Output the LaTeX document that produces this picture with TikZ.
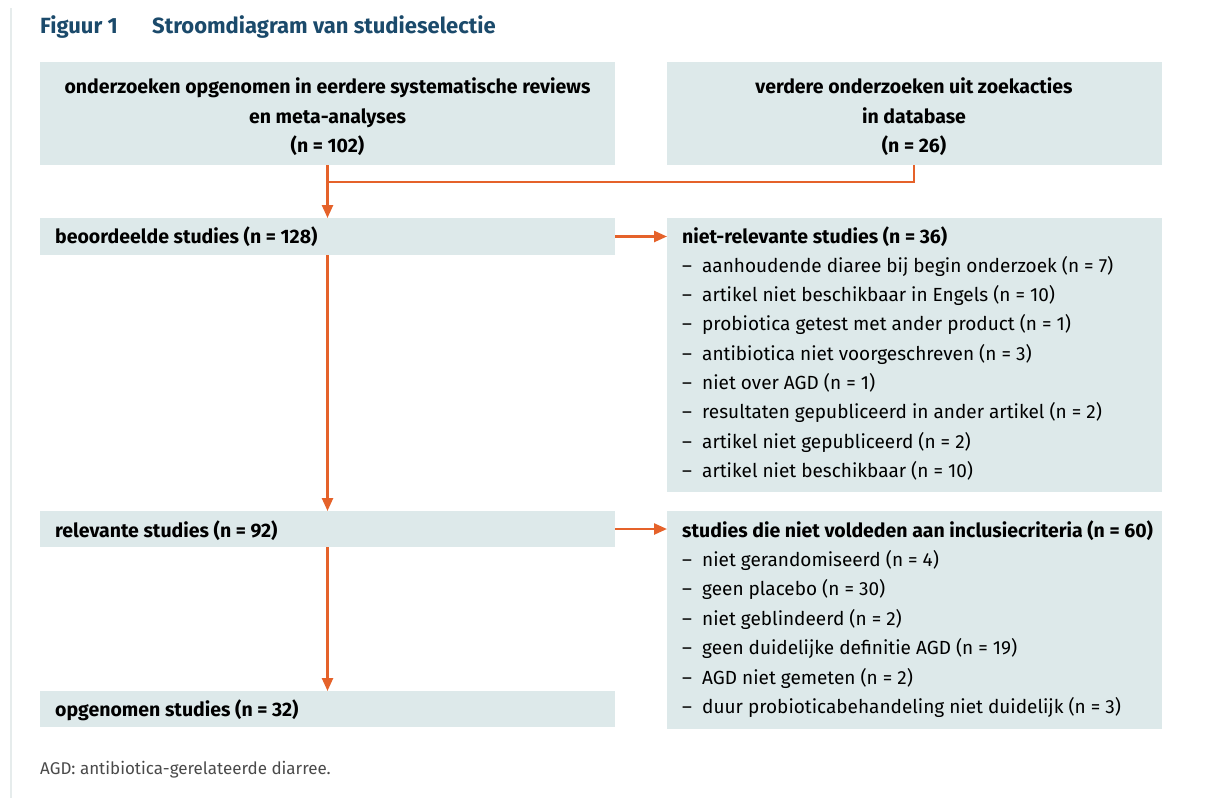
\documentclass[tikz,border=0pt]{standalone}
\usepackage{fontspec}
\setmainfont{Fira Sans}
\usetikzlibrary{arrows.meta}
\definecolor{boxfill}{HTML}{DDE9EA}
\definecolor{arrowc}{HTML}{E5622A}
\definecolor{titleblue}{HTML}{1B4A6B}
\definecolor{notegray}{HTML}{4A4A4A}
\definecolor{edgegray}{HTML}{E6ECEC}
\tikzset{
  box/.style={fill=boxfill, draw=none, anchor=north west, inner sep=0pt},
  bodytxt/.style={font=\fontsize{19}{29}\selectfont, text=black, inner sep=0pt},
  boldtxt/.style={bodytxt, font=\fontsize{19.5}{29.5}\selectfont\bfseries},
  itemtxt/.style={bodytxt, anchor=base west},
  conn/.style={draw=arrowc, line width=2.4pt},
  arr/.style={conn, -{Triangle[length=13pt,width=11pt]}},
}
\begin{document}
\begin{tikzpicture}[x=1pt,y=-1pt]
\useasboundingbox (0,0) rectangle (1206,798);
\fill[white] (0,0) rectangle (1206,798);
\draw[edgegray, line width=1.2pt] (11,8) -- (11,798);

% title
\node[anchor=base west, inner sep=0pt, text=titleblue, font=\fontsize{22}{26}\selectfont\bfseries] (fig) at (40,33) {Figuur 1};
\node[anchor=base west, inner sep=0pt, text=titleblue, font=\fontsize{22}{26}\selectfont\bfseries] (title) at (152,33) {Stroomdiagram van studieselectie};

% boxes
\node[box, minimum width=575pt, minimum height=103pt] (A) at (40,62) {};
\node[box, minimum width=495pt, minimum height=103pt] (B) at (667,62) {};
\node[box, minimum width=575pt, minimum height=37pt] (C) at (40,218) {};
\node[box, minimum width=495pt, minimum height=274pt] (D) at (667,218) {};
\node[box, minimum width=575pt, minimum height=36pt] (E) at (40,511) {};
\node[box, minimum width=495pt, minimum height=218pt] (F) at (667,511) {};
\node[box, minimum width=575pt, minimum height=36pt] (G) at (40,691) {};

% box texts
\node[boldtxt, align=center, anchor=center] (Atxt) at (327.5,117) {onderzoeken opgenomen in eerdere systematische reviews\\en meta-analyses\\(n = 102)};
\node[boldtxt, align=center, anchor=center] (Btxt) at (914,117) {verdere onderzoeken uit zoekacties\\in database\\(n = 26)};
\node[boldtxt, anchor=base west] (Ctxt) at (55,243) {beoordeelde studies (n = 128)};
\node[boldtxt, anchor=base west] (Etxt) at (55,537) {relevante studies (n = 92)};
\node[boldtxt, anchor=base west] (Gtxt) at (55,716) {opgenomen studies (n = 32)};

\node[boldtxt, anchor=base west] (Dtitle) at (682,243) {niet-relevante studies (n = 36)};
\foreach \t [count=\i] in {aanhoudende diaree bij begin onderzoek (n = 7),
  artikel niet beschikbaar in Engels (n = 10),
  probiotica getest met ander product (n = 1),
  antibiotica niet voorgeschreven (n = 3),
  niet over AGD (n = 1),
  resultaten gepubliceerd in ander artikel (n = 2),
  artikel niet gepubliceerd (n = 2),
  artikel niet beschikbaar (n = 10)}{
  \node[itemtxt] (Dd\i) at (682,243+29.3*\i) {--};
  \node[itemtxt] (Di\i) at (702,243+29.3*\i) {\t};
}

\node[boldtxt, anchor=base west] (Ftitle) at (682,537) {studies die niet voldeden aan inclusiecriteria (n = 60)};
\foreach \t [count=\i] in {niet gerandomiseerd (n = 4),
  geen placebo (n = 30),
  niet geblindeerd (n = 2),
  geen duidelijke definitie AGD (n = 19),
  AGD niet gemeten (n = 2),
  duur probioticabehandeling niet duidelijk (n = 3)}{
  \node[itemtxt] (Fd\i) at (682,537+29.4*\i) {--};
  \node[itemtxt] (Fi\i) at (702,537+29.4*\i) {\t};
}

% footnote
\node[anchor=base west, inner sep=0pt, text=notegray, font=\fontsize{17}{19}\selectfont] (note) at (40,774) {AGD: antibiotica-gerelateerde diarree.};

% connectors
\coordinate (j) at (327.5,182);
\draw[conn] (B.south -| 914,0) -- (914,182) -- (j);
\draw[arr] (A.south -| j) -- (C.north -| j);
\draw[arr] (C.east |- 0,236.5) -- (D.west |- 0,236.5);
\draw[arr] (C.south -| j) -- (E.north -| j);
\draw[arr] (E.east |- 0,529) -- (F.west |- 0,529);
\draw[arr] (E.south -| j) -- (G.north -| j);
\end{tikzpicture}
\end{document}
